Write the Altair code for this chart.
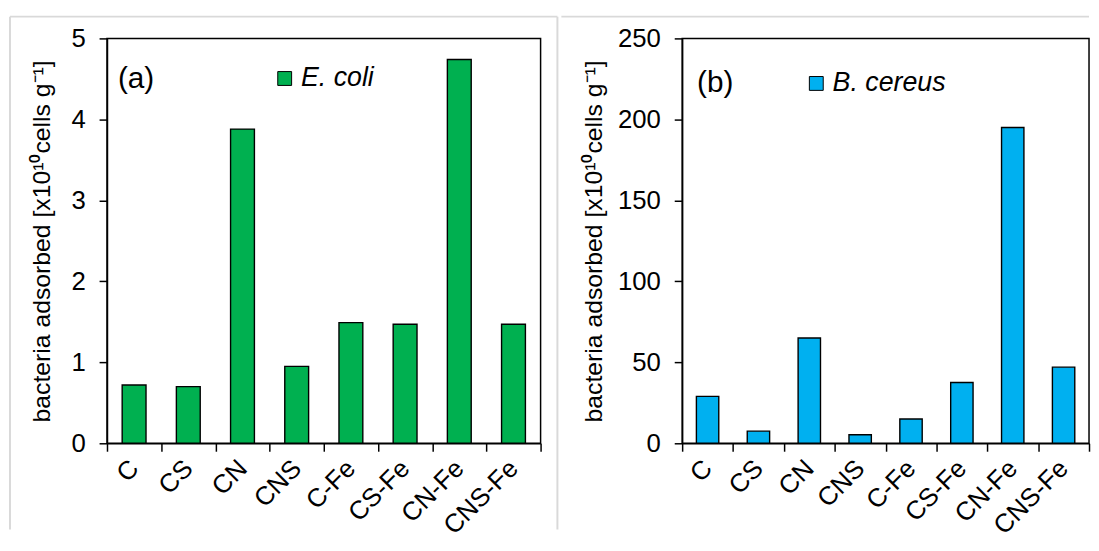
import altair as alt
import pandas as pd

categories = ["C", "CS", "CN", "CNS", "C-Fe", "CS-Fe", "CN-Fe", "CNS-Fe"]
ecoli_values = [0.72, 0.70, 3.88, 0.95, 1.49, 1.47, 4.74, 1.47]
bcereus_values = [29, 7.5, 65, 5.3, 15, 37.5, 195, 47]
series_names = ["E. coli", "B. cereus"]
panel_labels = ["(a)", "(b)"]
y_domains = [[0, 5], [0, 250]]
y_ticks = [[0, 1, 2, 3, 4, 5], [0, 50, 100, 150, 200, 250]]
colors = ["#00B050", "#00B0F0"]
y_title = "bacteria adsorbed [x10¹⁰cells g⁻¹]"

FONT = "Liberation Sans"
H = 409
GRAY = "#d9d9d9"
BOTTOM = 496


def panel(values, series, label, domain, ticks, color, width, title_x,
          legend_x, legend_y, label_x, label_y, rules):
    df = pd.DataFrame({"category": categories, "value": values, "series": series})
    bars = alt.Chart(df).mark_bar(
        width=alt.RelativeBandSize(0.44), stroke="black", strokeWidth=1.4
    ).encode(
        x=alt.X("category:N", sort=categories,
                scale=alt.Scale(paddingInner=0, paddingOuter=0),
                axis=alt.Axis(title=None, labelAngle=-45, labelAlign="right",
                              labelBaseline="middle", tickBand="extent",
                              labelPadding=13, labelFontSize=26)),
        y=alt.Y("value:Q", scale=alt.Scale(domain=domain, nice=False, zero=True),
                axis=alt.Axis(values=ticks, title=y_title, titleX=title_x,
                              titleBaseline="middle", titleFontSize=25,
                              titleFontWeight="normal", labelPadding=14,
                              labelFontSize=26)),
        color=alt.Color("series:N",
                        scale=alt.Scale(domain=[series], range=[color]),
                        legend=alt.Legend(orient="none", legendX=legend_x,
                                          legendY=legend_y, title=None,
                                          symbolType="square", symbolSize=196,
                                          symbolStrokeColor="black",
                                          symbolStrokeWidth=1,
                                          symbolOpacity=1,
                                          labelFontSize=27,
                                          labelFontStyle="italic",
                                          labelFont=FONT, labelColor="black",
                                          labelOffset=3, padding=0)),
    )
    text = alt.Chart(pd.DataFrame({"t": [label]})).mark_text(
        align="left", baseline="middle", fontSize=30, font=FONT, color="black"
    ).encode(text="t:N", x=alt.value(label_x), y=alt.value(label_y))
    layers = [bars, text]
    for (x1, x2, y1, y2) in rules:
        layers.append(
            alt.Chart(pd.DataFrame({"r": [0]})).mark_rule(
                color=GRAY, strokeWidth=2
            ).encode(x=alt.value(x1), x2=alt.value(x2),
                     y=alt.value(y1), y2=alt.value(y2))
        )
    return alt.layer(*layers).properties(width=width, height=H)


left = panel(ecoli_values, series_names[0], panel_labels[0], y_domains[0],
             y_ticks[0], colors[0], 438, -66, 166, 27, 11, 41,
             rules=[(-98, -98, -22, BOTTOM), (455, 455, -22, BOTTOM),
                    (-98, 455, -22, -22)])
right = panel(bcereus_values, series_names[1], panel_labels[1], y_domains[1],
              y_ticks[1], colors[1], 411, -89, 122, 32, 15, 45,
              rules=[(-122, 411, -22, -22)])

chart = alt.hconcat(left, right, spacing=0).resolve_scale(
    color="independent", x="independent", y="independent"
).resolve_legend(color="independent").properties(
    padding={"left": 0, "top": 4, "right": 0, "bottom": 0}
).configure(font=FONT).configure_view(
    stroke="black", strokeWidth=1.5
).configure_axis(
    labelFont=FONT, titleFont=FONT, labelColor="black",
    titleColor="black", domainColor="black", tickColor="black",
    domainWidth=1.5, tickWidth=1.5, tickSize=8, grid=False
)

chart.save("out.html", embed_options={"renderer": "svg", "actions": False})
